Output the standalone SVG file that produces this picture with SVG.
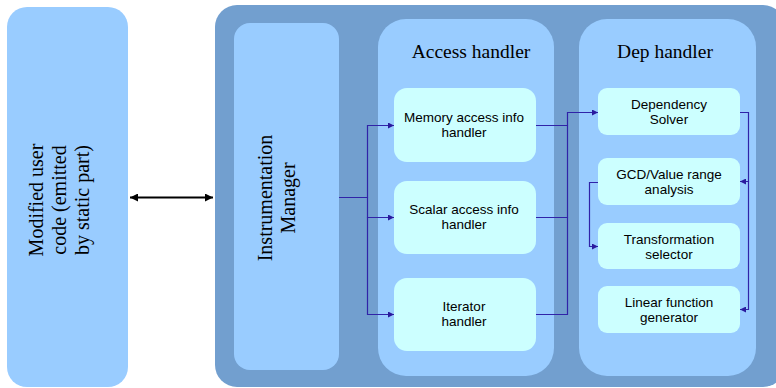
<svg xmlns="http://www.w3.org/2000/svg" width="776" height="388" viewBox="0 0 776 388">
<defs>
<style>
.serif{font-family:"Liberation Serif","DejaVu Serif",serif;font-size:20px;fill:#000;text-anchor:middle}
.title{font-family:"Liberation Serif","DejaVu Serif",serif;font-size:19.5px;fill:#000;text-anchor:middle}
.sans{font-family:"Liberation Sans",Arial,sans-serif;font-size:13.5px;fill:#000;text-anchor:middle}
.pane{fill:#99ccff}
.node{fill:#ccffff}
.conn{fill:none;stroke:#3023a8;stroke-width:1.2}
</style>
<marker id="ah" viewBox="0 0 10 10" refX="10" refY="5" markerWidth="7" markerHeight="6" markerUnits="userSpaceOnUse" orient="auto">
<path d="M0,0 L10,5 L0,10 z" fill="#2a1a9e"/>
</marker>
<marker id="bk" viewBox="0 0 10 10" refX="10" refY="5" markerWidth="9" markerHeight="8" markerUnits="userSpaceOnUse" orient="auto-start-reverse">
<path d="M0,0 L10,5 L0,10 z" fill="#000"/>
</marker>
</defs>

<g id="user-code">
<rect x="7" y="7" width="121" height="380" rx="20" class="pane"/>
<text class="serif" transform="rotate(-90)"><tspan x="-200" y="43">Modified user</tspan><tspan x="-200" y="66">code (emitted</tspan><tspan x="-200" y="89">by static part)</tspan></text>
</g>

<g id="runtime">
<rect x="215" y="5" width="570" height="382" rx="22" fill="#729fcf"/>
</g>

<g id="instrumentation-manager">
<rect x="234" y="23" width="105" height="347" rx="16" class="pane"/>
<text class="serif" transform="rotate(-90)"><tspan x="-198" y="272">Instrumentation</tspan><tspan x="-198" y="295">Manager</tspan></text>
</g>

<g id="access-handler">
<rect x="378" y="19" width="176" height="357" rx="28" class="pane"/>
<text class="title" x="471" y="58">Access handler</text>
</g>

<g id="dep-handler">
<rect x="579" y="19" width="177" height="357" rx="28" class="pane"/>
<text class="title" x="665" y="58">Dep handler</text>
</g>

<g id="memory-access">
<rect x="394" y="88" width="142" height="74" rx="13" class="node"/>
<text class="sans"><tspan x="464" y="122">Memory access info</tspan><tspan x="464" y="137">handler</tspan></text>
</g>

<g id="scalar-access">
<rect x="394" y="181" width="142" height="73" rx="13" class="node"/>
<text class="sans"><tspan x="464" y="214">Scalar access info</tspan><tspan x="464" y="229">handler</tspan></text>
</g>

<g id="iterator">
<rect x="394" y="278" width="142" height="73" rx="13" class="node"/>
<text class="sans"><tspan x="464" y="311">Iterator</tspan><tspan x="464" y="326">handler</tspan></text>
</g>

<g id="dependency-solver">
<rect x="598" y="88" width="142" height="47" rx="9" class="node"/>
<text class="sans"><tspan x="669" y="109">Dependency</tspan><tspan x="669" y="124">Solver</tspan></text>
</g>

<g id="gcd">
<rect x="598" y="158" width="142" height="47" rx="9" class="node"/>
<text class="sans"><tspan x="669" y="179">GCD/Value range</tspan><tspan x="669" y="194">analysis</tspan></text>
</g>

<g id="transformation-selector">
<rect x="598" y="223" width="142" height="46" rx="9" class="node"/>
<text class="sans"><tspan x="669" y="244">Transformation</tspan><tspan x="669" y="259">selector</tspan></text>
</g>

<g id="linear-function">
<rect x="598" y="286" width="142" height="47" rx="9" class="node"/>
<text class="sans"><tspan x="669" y="307">Linear function</tspan><tspan x="669" y="322">generator</tspan></text>
</g>

<g id="connectors">
<line x1="130" y1="197.5" x2="213" y2="197.5" stroke="#000" stroke-width="2" marker-start="url(#bk)" marker-end="url(#bk)"/>
<polyline class="conn" points="339,197.5 367.5,197.5 367.5,125.5 394,125.5" marker-end="url(#ah)"/>
<polyline class="conn" points="367.5,197.5 367.5,217.5 394,217.5" marker-end="url(#ah)"/>
<polyline class="conn" points="367.5,217.5 367.5,314.5 394,314.5" marker-end="url(#ah)"/>
<polyline class="conn" points="536,125.5 567.5,125.5 567.5,112.5 598,112.5" marker-end="url(#ah)"/>
<polyline class="conn" points="536,217.5 567.5,217.5 567.5,125.5"/>
<polyline class="conn" points="536,314.5 567.5,314.5 567.5,217.5"/>
<polyline class="conn" points="740,112.5 748.5,112.5 748.5,181.5 740,181.5" marker-end="url(#ah)"/>
<polyline class="conn" points="748.5,181.5 748.5,309.5 740,309.5" marker-end="url(#ah)"/>
<polyline class="conn" points="598,182.5 589.5,182.5 589.5,246.5 598,246.5" marker-end="url(#ah)"/>
</g>
</svg>
